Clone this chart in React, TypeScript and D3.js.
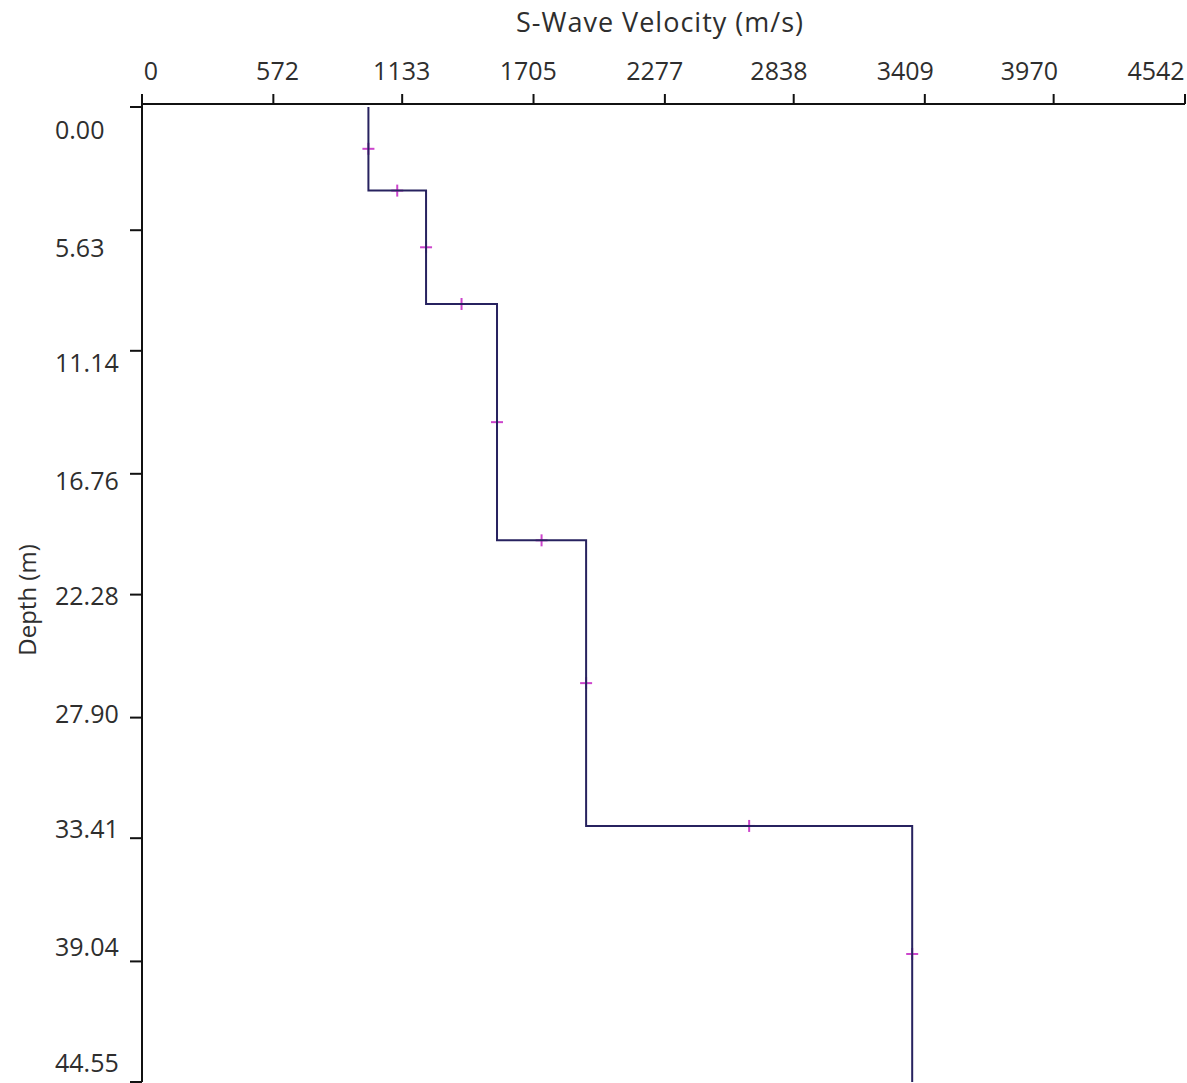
import { useEffect, useRef } from 'react';
import * as d3 from 'd3';

// layer boundaries (m) and S-wave velocity of each layer (m/s)
const layerDepths = [0, 3.82, 9.0, 19.8, 32.85, 44.55];
const layerVelocities = [986, 1237, 1546, 1934, 3354];

// axis tick labels as printed on the chart
const velocityTicks = [0, 572, 1133, 1705, 2277, 2838, 3409, 3970, 4542];
const depthTicks = [0, 5.63, 11.14, 16.76, 22.28, 27.9, 33.41, 39.04, 44.55];

const WIDTH = 1187;
const HEIGHT = 1083;
const FONT = '"Open Sans", "Noto Sans", sans-serif';
const TEXT = '#2e2e2e';

export default function App() {
  const ref = useRef<SVGSVGElement | null>(null);

  useEffect(() => {
    if (!ref.current) return;
    const svg = d3.select(ref.current);
    svg.selectAll('*').remove();

    const x = d3.scaleLinear().domain([0, 4542]).range([142, 1185]);
    const y = d3.scaleLinear().domain([0, 44.55]).range([107, 1082]);
    // the labels sit a little off their ticks in the original
    const xLabel = d3.scaleLinear().domain([0, 4542]).range([151, 1156]);
    const yLabel = d3.scaleLinear().domain([0, 44.55]).range([130, 1063]);
    const axisY = 104;

    svg.append('rect').attr('width', WIDTH).attr('height', HEIGHT).attr('fill', '#fff');

    // x axis (top)
    svg.append('line')
      .attr('x1', x(0)).attr('x2', x(4542))
      .attr('y1', axisY).attr('y2', axisY)
      .attr('stroke', '#111').attr('stroke-width', 2);

    svg.selectAll('.xtick')
      .data(velocityTicks)
      .enter()
      .append('line')
      .attr('class', 'xtick')
      .attr('x1', d => x(d)).attr('x2', d => x(d))
      .attr('y1', axisY).attr('y2', axisY - 10)
      .attr('stroke', '#111').attr('stroke-width', 2);

    svg.selectAll('.xlabel')
      .data(velocityTicks)
      .enter()
      .append('text')
      .attr('class', 'xlabel')
      .attr('x', d => xLabel(d))
      .attr('y', 80)
      .attr('text-anchor', 'middle')
      .style('font-family', FONT)
      .style('font-size', '25px')
      .style('fill', TEXT)
      .text(d => String(d));

    svg.append('text')
      .attr('x', 660)
      .attr('y', 32)
      .attr('text-anchor', 'middle')
      .style('font-family', FONT)
      .style('font-size', '27px')
      .style('letter-spacing', '1px')
      .style('fill', TEXT)
      .text('S-Wave Velocity (m/s)');

    // y axis (left)
    svg.append('line')
      .attr('x1', x(0)).attr('x2', x(0))
      .attr('y1', axisY).attr('y2', y(44.55))
      .attr('stroke', '#111').attr('stroke-width', 2);

    svg.selectAll('.ytick')
      .data(depthTicks)
      .enter()
      .append('line')
      .attr('class', 'ytick')
      .attr('x1', x(0)).attr('x2', x(0) - 12)
      .attr('y1', d => y(d)).attr('y2', d => y(d))
      .attr('stroke', '#111').attr('stroke-width', 2);

    svg.selectAll('.ylabel')
      .data(depthTicks)
      .enter()
      .append('text')
      .attr('class', 'ylabel')
      .attr('x', 55)
      .attr('y', d => yLabel(d))
      .attr('dy', '0.35em')
      .style('font-family', FONT)
      .style('font-size', '25px')
      .style('fill', TEXT)
      .text(d => d.toFixed(2));

    svg.append('text')
      .attr('transform', `translate(36, 600) rotate(-90)`)
      .attr('text-anchor', 'middle')
      .style('font-family', FONT)
      .style('font-size', '24px')
      .style('fill', TEXT)
      .text('Depth (m)');

    // step profile
    const points: [number, number][] = [];
    layerVelocities.forEach((v, i) => {
      points.push([v, layerDepths[i]]);
      points.push([v, layerDepths[i + 1]]);
    });
    const line = d3.line<[number, number]>()
      .x(d => x(d[0]))
      .y(d => y(d[1]));

    // markers at the middle of each segment
    const markers: [number, number][] = [];
    layerVelocities.forEach((v, i) => {
      markers.push([v, (layerDepths[i] + layerDepths[i + 1]) / 2]);
      if (i < layerVelocities.length - 1) {
        markers.push([(v + layerVelocities[i + 1]) / 2, layerDepths[i + 1]]);
      }
    });

    const marks = svg.selectAll('.marker')
      .data(markers)
      .enter()
      .append('g')
      .attr('class', 'marker')
      .attr('transform', d => `translate(${x(d[0])},${y(d[1])})`);
    marks.append('line')
      .attr('x1', -6).attr('x2', 6)
      .attr('stroke', '#cc44cc').attr('stroke-width', 2);
    marks.append('line')
      .attr('y1', -6).attr('y2', 6)
      .attr('stroke', '#cc44cc').attr('stroke-width', 2);

    svg.append('path')
      .datum(points)
      .attr('d', line)
      .attr('fill', 'none')
      .attr('stroke', '#27225f')
      .attr('stroke-width', 2);
  }, []);

  return (
    <svg
      ref={ref}
      width={WIDTH}
      height={HEIGHT}
      style={{ position: 'absolute', left: 0, top: 0 }}
    />
  );
}
